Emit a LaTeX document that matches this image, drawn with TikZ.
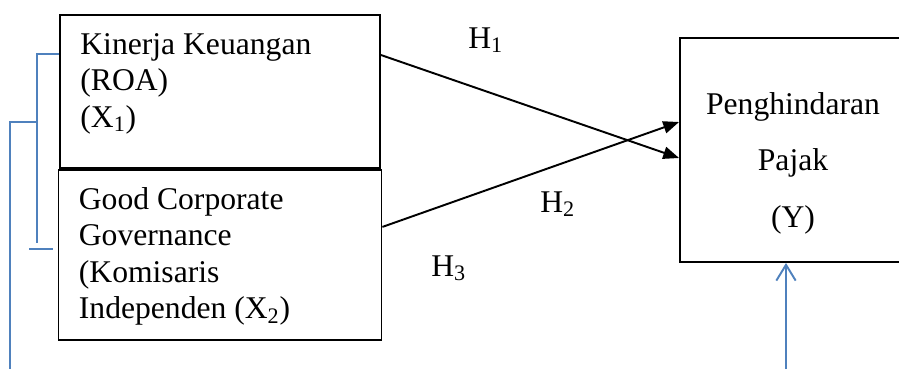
\documentclass[tikz,border=0pt]{standalone}
\usepackage{fontspec}
\setmainfont{Liberation Serif}
\usetikzlibrary{positioning, arrows.meta}
\definecolor{blueln}{RGB}{79,129,189}

\begin{document}
\begin{tikzpicture}[
      x=0.02cm, y=-0.02cm,
      box/.style={draw, line width=1.1pt, inner sep=0pt},
      txt/.style={inner sep=0pt, align=left, font=\fontsize{18}{20.8}\selectfont},
      hyp/.style={inner sep=0pt, anchor=base west, font=\fontsize{18}{20.8}\selectfont},
      arr/.style={-{Triangle[length=9pt, width=7pt]}, line width=1.1pt},
      bline/.style={draw=blueln, line width=1.1pt}]
      \useasboundingbox (0,0) rectangle (899,369);
      \node[box, minimum width=6.4cm, minimum height=3.06cm] (kinerja) at (220,91.5) {};
      \node[box, minimum width=6.46cm, minimum height=3.4cm, below=0pt of kinerja] (gcg) {};
      \node[box, minimum width=4.52cm, minimum height=4.48cm] (pajak) at (793,150) {};
      \node[txt, below right=0.38cm and 0.42cm of kinerja.north west] (kinerjatxt) {Kinerja Keuangan\\(ROA)\\(X\textsubscript{1})};
      \node[txt, below right=0.36cm and 0.42cm of gcg.north west] (gcgtxt) {Good Corporate\\Governance\\(Komisaris\\Independen (X\textsubscript{2})};
      \node[txt, align=center, font=\fontsize{18}{32.2}\selectfont, below=1.1cm of pajak.north] (pajaktxt) {Penghindaran\\Pajak\\(Y)};
      \node[hyp] (h1) at (468,48) {H\textsubscript{1}};
      \node[hyp] (h2) at (540,212) {H\textsubscript{2}};
      \node[hyp] (h3) at (431,276) {H\textsubscript{3}};
      \draw[arr] ([yshift=0.73cm]kinerja.east) -- ([yshift=-0.16cm]pajak.west);
      \draw[arr] ([yshift=0.56cm]gcg.east) -- ([yshift=0.56cm]pajak.west);
      % blue brackets on the left
      \coordinate (innerend) at (37,243);
      \coordinate (stubl) at (29,249);
      \coordinate (stubr) at (53,249);
      \coordinate (outertop) at (37,122);
      \coordinate (outerend) at (10,369);
      \draw[bline] ([yshift=0.75cm]kinerja.west) -| (innerend);
      \draw[bline] (stubl) -- (stubr);
      \draw[bline] (outertop) -| (outerend);
      % blue arrow into Y
      \coordinate (ybase) at (786,369);
      \draw[bline, -{Straight Barb[length=9pt, width=11pt]}] (ybase) -- (ybase |- pajak.south);
    \end{tikzpicture}
\end{document}
